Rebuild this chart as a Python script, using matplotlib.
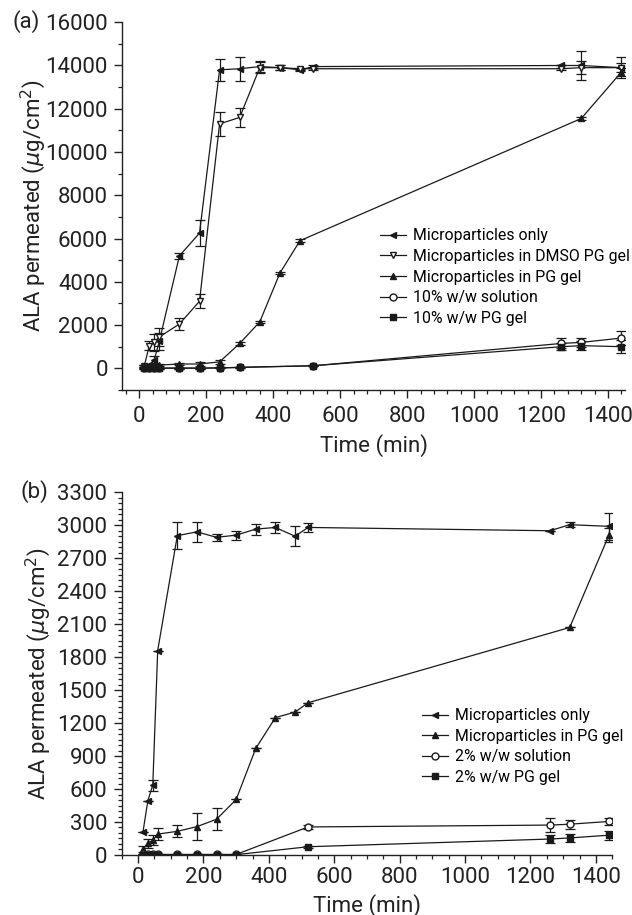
import matplotlib
matplotlib.use('Agg')
import matplotlib.pyplot as plt
from matplotlib.ticker import MultipleLocator

plt.rcParams['font.family'] = ['Roboto', 'DejaVu Sans']
plt.rcParams['mathtext.fontset'] = 'dejavusans'

# panel (a) - 10% formulations
t_a = [15, 30, 45, 60, 120, 180, 240, 300, 360, 420, 480, 520, 1260, 1320, 1440]
mp_only_a = [100, 150, 400, 1250, 5200, 6250, 13800, 13850, 13950, 13900, 13800, 13950, 14000, 14000, 13900]
mp_only_a_err = [50, 50, 150, 400, 150, 600, 500, 550, 250, 100, 50, 50, 0, 650, 500]
dmso_a = [100, 1050, 1200, 1450, 2050, 3100, 11300, 11600, 13900, 13900, 13850, 13850, 13850, 13900, 13900]
dmso_a_err = [50, 200, 380, 400, 260, 320, 560, 450, 250, 100, 50, 50, 50, 300, 200]
t_pg_a = [15, 30, 45, 60, 120, 180, 240, 300, 360, 420, 480, 1320, 1440]
pg_a = [100, 100, 150, 150, 200, 200, 300, 1150, 2150, 4400, 5900, 11550, 13700]
pg_a_err = [50, 50, 50, 50, 50, 80, 80, 60, 60, 60, 60, 60, 200]
t_sg_a = [15, 30, 45, 60, 120, 180, 240, 300, 520, 1260, 1320, 1440]
sol_a = [10, 10, 10, 10, 10, 10, 20, 50, 120, 1150, 1200, 1400]
sol_a_err = [20, 20, 20, 20, 20, 20, 20, 20, 30, 230, 200, 330]
gel_a = [10, 10, 10, 10, 10, 10, 20, 40, 120, 1000, 1050, 1000]
gel_a_err = [20, 20, 20, 20, 20, 20, 20, 20, 30, 150, 200, 300]

# panel (b) - 2% formulations
t_b = [15, 30, 45, 60, 120, 180, 240, 300, 360, 420, 480, 520, 1260, 1320, 1440]
mp_only_b = [210, 495, 635, 1860, 2905, 2940, 2890, 2910, 2965, 2980, 2900, 2980, 2950, 3005, 2990]
mp_only_b_err = [0, 0, 50, 0, 125, 90, 30, 40, 50, 50, 90, 40, 0, 25, 120]
t_pg_b = [15, 30, 45, 60, 120, 180, 240, 300, 360, 420, 480, 520, 1320, 1440]
pg_b = [55, 105, 135, 190, 215, 258, 325, 505, 970, 1250, 1300, 1385, 2070, 2910]
pg_b_err = [30, 40, 45, 55, 55, 120, 100, 0, 0, 0, 0, 0, 0, 65]
t_sg_b = [15, 30, 45, 60, 120, 180, 240, 300, 520, 1260, 1320, 1440]
sol_b = [5, 5, 5, 5, 5, 5, 5, 5, 255, 272, 280, 305]
sol_b_err = [0, 0, 0, 0, 0, 0, 0, 0, 15, 60, 40, 35]
gel_b = [3, 3, 3, 3, 3, 3, 3, 3, 75, 145, 155, 180]
gel_b_err = [0, 0, 0, 0, 0, 0, 0, 0, 10, 35, 35, 40]

labels_a = ['Microparticles only', 'Microparticles in DMSO PG gel',
            'Microparticles in PG gel', '10% w/w solution', '10% w/w PG gel']
labels_b = ['Microparticles only', 'Microparticles in PG gel',
            '2% w/w solution', '2% w/w PG gel']

col = '#1a1a1a'
txt = '#222222'
kw = dict(color=col, lw=0.9, ms=5, capsize=3.5, elinewidth=0.9, capthick=0.9, mec=col)
FS = 16
LFS = 11.4


def series(ax, x, y, e, marker, face):
    c = ax.errorbar(x, y, yerr=e, marker=marker, mfc=face, **kw)
    return c[0]


def style(ax, ymin, ymax, ymaj, ymin_step, xminor, xpad):
    for s in ['top', 'right']:
        ax.spines[s].set_visible(False)
    for s in ['left', 'bottom']:
        ax.spines[s].set_linewidth(1.0)
        ax.spines[s].set_color(txt)
    ax.set_xlim(-50, 1450)
    ax.set_ylim(ymin, ymax)
    ax.xaxis.set_major_locator(MultipleLocator(200))
    ax.xaxis.set_minor_locator(MultipleLocator(xminor))
    ax.yaxis.set_major_locator(MultipleLocator(ymaj))
    ax.yaxis.set_minor_locator(MultipleLocator(ymin_step))
    ax.tick_params(which='major', length=5.5, width=1.0, labelsize=FS, colors=txt)
    ax.tick_params(which='minor', length=3, width=0.9, colors=txt)
    ax.tick_params(axis='x', pad=xpad)
    ax.tick_params(axis='y', pad=5)
    ax.set_xlabel('Time (min)', fontsize=FS, color=txt, va='center')
    ax.set_ylabel(r'ALA permeated ($\mu$g/cm$^2$)', fontsize=FS, color=txt, va='center')


fig = plt.figure(figsize=(6.32, 9.15), dpi=100)
ax1 = fig.add_axes([0.1938, 0.5738, 0.7948, 0.4019])
ax2 = fig.add_axes([0.1926, 0.0656, 0.7761, 0.3964])

markers_a = ['<', 'v', '^', 'o', 's']
faces_a = [col, 'white', col, 'white', col]
data_a = [(t_a, mp_only_a, mp_only_a_err), (t_a, dmso_a, dmso_a_err), (t_pg_a, pg_a, pg_a_err),
          (t_sg_a, sol_a, sol_a_err), (t_sg_a, gel_a, gel_a_err)]
h = [series(ax1, x, y, e, m, f) for (x, y, e), m, f in zip(data_a, markers_a, faces_a)]
style(ax1, -1000, 16000, 2000, 1000, 40, 6)
ax1.xaxis.set_label_coords(0.5, -0.152)
ax1.yaxis.set_label_coords(-0.178, 0.5)
ax1.legend(h, labels_a, loc='center left', bbox_to_anchor=(0.512, 0.307), frameon=False,
           fontsize=LFS, handlelength=1.65, handletextpad=0.45, labelspacing=0.35,
           borderpad=0, borderaxespad=0)

markers_b = ['<', '^', 'o', 's']
faces_b = [col, col, 'white', col]
data_b = [(t_b, mp_only_b, mp_only_b_err), (t_pg_b, pg_b, pg_b_err),
          (t_sg_b, sol_b, sol_b_err), (t_sg_b, gel_b, gel_b_err)]
h = [series(ax2, x, y, e, m, f) for (x, y, e), m, f in zip(data_b, markers_b, faces_b)]
style(ax2, 0, 3300, 300, 50, 50, 3)
ax2.xaxis.set_label_coords(0.5, -0.138)
ax2.yaxis.set_label_coords(-0.171, 0.5)
ax2.legend(h, labels_b, loc='center left', bbox_to_anchor=(0.612, 0.299), frameon=False,
           fontsize=LFS, handlelength=1.65, handletextpad=0.45, labelspacing=0.35,
           borderpad=0, borderaxespad=0)

fig.text(12 / 632, 1 - 22 / 915, '(a)', fontsize=FS, va='center', ha='left', color=txt)
fig.text(20 / 632, 1 - 492 / 915, '(b)', fontsize=FS, va='center', ha='left', color=txt)

fig.savefig('out.png', dpi=100)
